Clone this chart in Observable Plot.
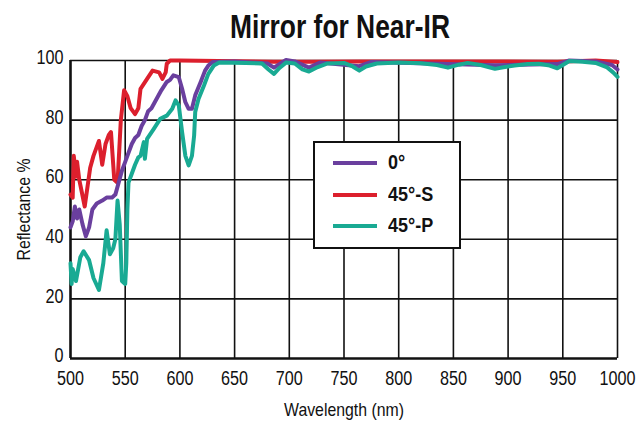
<!DOCTYPE html>
<html>
<head>
<meta charset="utf-8">
<script src="https://cdn.jsdelivr.net/npm/d3@7"></script>
<script src="https://cdn.jsdelivr.net/npm/@observablehq/plot@0.6"></script>
<style>
  html, body { margin: 0; padding: 0; background: #fff; }
  #wrap { position: relative; width: 640px; height: 435px; font-family: "Liberation Sans", Arial, sans-serif; }
  #title { position: absolute; left: 0; top: 0; width: 640px; height: 50px; }
  #title span { position: absolute; left: 340px; top: 8px; transform: translateX(-50%) scaleX(0.8); transform-origin: center; font-size: 33px; font-weight: bold; color: #111; white-space: nowrap; line-height: 38px; }
  #chart { position: absolute; left: 0; top: 50px; }
  #legend { position: absolute; left: 313px; top: 141px; width: 148px; height: 108px; box-sizing: border-box; border: 2px solid #111; background: #fff; }
  .lg { position: absolute; left: 18px; height: 0; }
  .lg span.sw { position: absolute; left: 0; width: 44px; height: 4px; top: -2px; }
  .lg span.tx { position: absolute; left: 55px; top: -13px; font-size: 20px; font-weight: bold; color: #111; white-space: nowrap; line-height: 24px; transform: scaleX(0.9); transform-origin: left center; }
  svg text { font-family: "Liberation Sans", Arial, sans-serif; }
</style>
</head>
<body>
<div id="wrap">
  <div id="title"><span>Mirror for Near-IR</span></div>
  <div id="chart"></div>
  <div id="legend"></div>
</div>
<script>
// Series names and colours
const seriesNames = ["0°", "45°-S", "45°-P"];
const seriesColors = ["#6a3f9e", "#dc1f2d", "#19aa93"];

// X ticks / Y ticks
const xTicks = [500, 550, 600, 650, 700, 750, 800, 850, 900, 950, 1000];
const yTicks = [0, 20, 40, 60, 80, 100];

// 0° (purple)
const wl0 = [500,502,504,506,508,511,514,517,520,524,529,533,538,541,544,547,550,553,556,559,562,565,568,571,574,577,580,583,588,591,594,599,602,605,608,611,614,619,623,626,630,650,680,686,692,697,705,718,728,764,775,845,888,945,956,980,995,1000];
const r0  = [44,46,51,47,50,45,41,44,50,52,53,54,54,55,59,63,66,69,72,74,75,78,80,83,84,86,88,90,92.8,93.5,95,94.4,90.5,86,83.8,83.8,88.3,92.8,96.6,98.3,99.5,99.7,99,97.6,99,100.2,99.7,97.6,99.3,98.1,99.5,98.8,98.4,98.8,100,99.7,98.5,97];

// 45°-S (red)
const wlS = [500,502,503,505,506,508,513,518,521,524,526,529,532,535,537,540,543,546,549,552,555,559,562,564,570,575,581,584,587,588,591,600,686,718,764,845,888,945,980,1000];
const rS  = [55,54,68,61,66,60,51,64,68,71,73,65,72,75,76,60,59,80,90,88,84,82,84,90.5,93.8,96.6,96,93.8,96,98.9,100,100,99.6,99.6,99.7,99.7,99.7,99.6,100,99.5];

// 45°-P (teal)
const wlP = [500,501,502,505,509,512,517,521,526,530,533,536,539,541,543,545,547,550,551,552,553,556,559,562,564,567,568,570,576,582,588,593,596,599,602,605,608,611,613,614,617,622,626,631,636,660,675,681,686,691,697,705,712,718,726,735,750,758,764,770,780,800,820,835,845,855,863,875,888,897,906,918,928,938,945,950,956,968,980,990,996,1000];
const rP  = [32,25,30,26,34,36,33,27,23,32,43,35,37,40,53,45,26,25,32,50,59,62,65,67.5,68,72.6,67,73.7,77,80.4,81.5,83.8,86.6,84.9,76,68,64.8,68,74.8,82.7,87.1,91.6,95.5,98.3,99.3,99.2,99,97,95.5,97.5,99.3,99,97,96.3,97.8,99,99.2,98,96.6,98,99,99.3,99.1,98.5,97.6,98.6,99.2,98.5,97.2,97.8,98.3,98.8,98.9,98.3,97.4,98.5,99.8,99.6,99.2,97.8,96,94.5];

const table = [
  ...wlS.map((w, i) => ({wl: w, r: rS[i], s: seriesNames[1]})),
  ...wl0.map((w, i) => ({wl: w, r: r0[i], s: seriesNames[0]})),
  ...wlP.map((w, i) => ({wl: w, r: rP[i], s: seriesNames[2]}))
];

const plot = Plot.plot({
  width: 640,
  height: 385,
  marginTop: 10,
  marginBottom: 77,
  marginLeft: 70,
  marginRight: 23,
  style: {fontSize: "21px", color: "#111", background: "#fff", overflow: "visible"},
  x: {domain: [500, 1000]},
  y: {domain: [0, 100]},
  color: {domain: seriesNames, range: seriesColors},
  marks: [
    Plot.gridX(xTicks.slice(1), {stroke: "#111", strokeOpacity: 1, strokeWidth: 1.6}),
    Plot.gridY(yTicks.slice(1), {stroke: "#111", strokeOpacity: 1, strokeWidth: 1.6}),
    Plot.ruleX([500], {stroke: "#111", strokeWidth: 2.6}),
    Plot.ruleY([0], {stroke: "#111", strokeWidth: 2.6}),
    Plot.line(table, {x: "wl", y: "r", z: "s", stroke: "s", strokeWidth: 4, curve: "linear"}),
    Plot.axisX(xTicks, {tickSize: 0, tickPadding: 12, fontSize: 21, tickFormat: d => String(d), label: "Wavelength (nm)", labelAnchor: "center", labelArrow: "none", labelOffset: 57}),
    Plot.axisY(yTicks, {tickSize: 0, tickPadding: 7, dy: -3, fontSize: 21, tickFormat: d => String(d), label: "Reflectance %", labelAnchor: "center", labelArrow: "none", labelOffset: 53})
  ]
});
document.getElementById("chart").appendChild(plot);

// Condense SVG texts horizontally (condensed typeface look)
plot.querySelectorAll("text").forEach(t => {
  const g = t.closest("g[aria-label]");
  const lab = g ? g.getAttribute("aria-label") : "";
  const isLabel = /axis label$/.test(lab) && !/tick/.test(lab);
  if (isLabel) t.style.fontSize = "18px";
  const s = isLabel ? 0.88 : 0.77;
  const x = +t.getAttribute("x") || 0, y = +t.getAttribute("y") || 0;
  const tr = t.getAttribute("transform") || "";
  t.setAttribute("transform", `${tr} translate(${x},${y}) scale(${s},1) translate(${-x},${-y})`);
});

// Legend
const lg = document.getElementById("legend");
const legendRows = [20, 52, 83];
seriesNames.forEach((n, i) => {
  const row = document.createElement("div");
  row.className = "lg";
  row.style.top = legendRows[i] + "px";
  row.innerHTML = `<span class="sw" style="background:${seriesColors[i]}"></span><span class="tx">${n}</span>`;
  lg.appendChild(row);
});
</script>
</body>
</html>
